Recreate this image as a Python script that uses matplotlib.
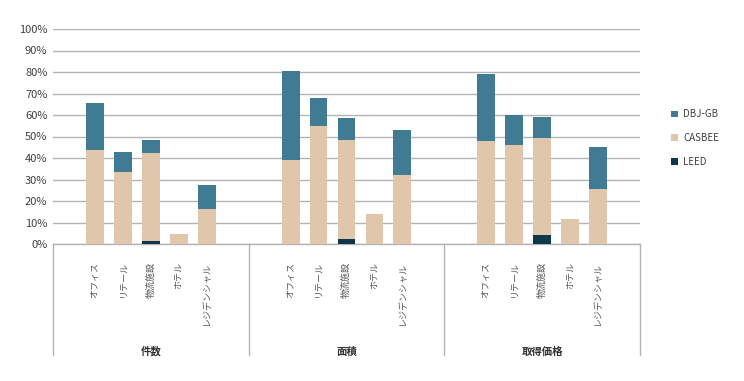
import matplotlib
matplotlib.use("Agg")
import matplotlib.pyplot as plt
import numpy as np

plt.rcParams['font.family'] = ['Noto Sans CJK JP', 'DejaVu Sans']

groups = ['件数', '面積', '取得価格']
categories = ['オフィス', 'リテール', '物流施設', 'ホテル', 'レジデンシャル']

# values in %, order: group by group, category by category
leed = [0, 0, 1.5, 0, 0,
        0, 0, 2.2, 0, 0,
        0, 0, 4.0, 0, 0]
casbee = [43.7, 33.6, 40.7, 4.6, 16.3,
          39.1, 54.7, 46.3, 14.0, 31.9,
          47.8, 46.2, 45.3, 11.5, 25.7]
dbj_gb = [22.0, 9.3, 6.2, 0, 11.0,
          41.5, 13.3, 10.1, 0, 21.3,
          31.3, 14.0, 9.9, 0, 19.6]

c_dbj = '#3f7b93'
c_casbee = '#e0c6aa'
c_leed = '#0e3849'
grid_c = '#b4b4b4'
text_c = '#404040'

fig = plt.figure(figsize=(7.44, 3.81), dpi=100)
ax = fig.add_axes([53 / 744, 1 - 244 / 381, (640 - 53) / 744, 215 / 381])

slots = len(categories) + 2
x = np.array([g * slots + 1 + i + 0.5 for g in range(len(groups)) for i in range(len(categories))])
leed_a = np.array(leed)
casbee_a = np.array(casbee)
dbj_a = np.array(dbj_gb)

w = 0.64
ax.bar(x, leed_a, w, color=c_leed, label='LEED', zorder=3)
ax.bar(x, casbee_a, w, bottom=leed_a, color=c_casbee, label='CASBEE', zorder=3)
ax.bar(x, dbj_a, w, bottom=leed_a + casbee_a, color=c_dbj, label='DBJ-GB', zorder=3)

ax.set_xlim(0, slots * len(groups))
ax.set_ylim(0, 100)
ax.set_yticks(np.arange(0, 101, 10))
ax.set_yticklabels([f'{v}%' for v in range(0, 101, 10)], fontsize=8, color=text_c)
ax.yaxis.grid(True, color=grid_c, linewidth=1)
ax.set_axisbelow(True)
ax.tick_params(axis='y', length=0, pad=4)

ax.set_xticks(x)
ax.set_xticklabels(categories * len(groups), rotation=90, va='top', ha='center',
                   fontsize=6.5, color='#555555')
ax.tick_params(axis='x', length=0, pad=13)

for s in ['top', 'right', 'left']:
    ax.spines[s].set_visible(False)
ax.spines['bottom'].set_color(grid_c)
ax.spines['bottom'].set_linewidth(1)

# group dividers and labels under the axis
trans = ax.get_xaxis_transform()
for g in range(len(groups) + 1):
    ax.plot([g * slots, g * slots], [0, -0.515], color=grid_c, linewidth=1,
            transform=trans, clip_on=False)
for g, name in enumerate(groups):
    ax.text(g * slots + slots / 2, -0.50, name, transform=trans, ha='center', va='center',
            fontsize=7.5, fontweight='bold', color='#333333')

handles, labels = ax.get_legend_handles_labels()
fig.legend(handles[::-1], labels[::-1], loc='center left', bbox_to_anchor=(662 / 744, 1 - 138 / 381),
           frameon=False, fontsize=7, handlelength=0.7, handleheight=0.7, handletextpad=0.6,
           labelspacing=1.4, labelcolor=text_c)

fig.savefig('out.png', dpi=100)
